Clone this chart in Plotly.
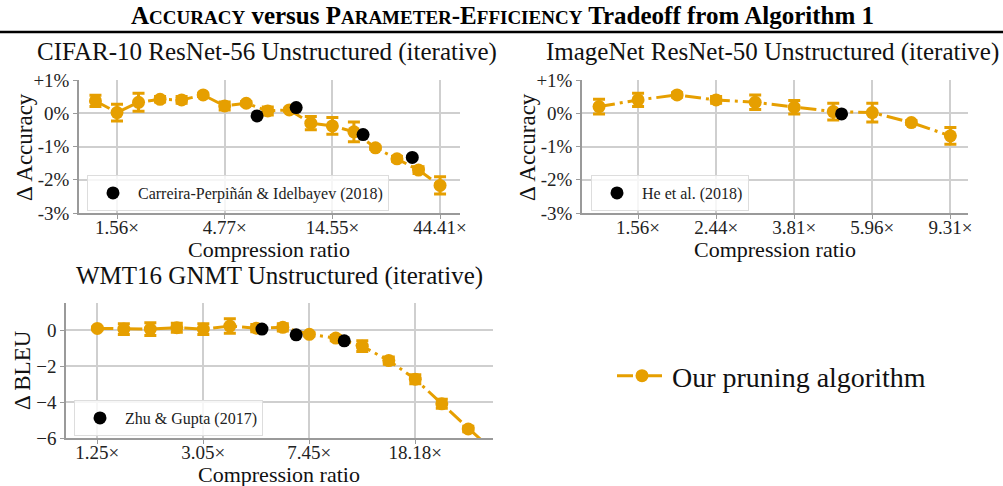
import math
import plotly.graph_objects as go

ORANGE = "#E69F00"
FONT = "Liberation Serif"

# ---------------- data ----------------
# CIFAR-10 ResNet-56
cifar_x = [1.25, 1.5625, 1.953, 2.441, 3.052, 3.815, 4.768, 5.96, 7.451, 9.313,
           11.64, 14.55, 18.19, 22.74, 28.42, 35.53, 44.41]
cifar_y = [0.37, 0.02, 0.33, 0.42, 0.40, 0.55, 0.22, 0.30, 0.07, 0.10,
           -0.30, -0.38, -0.56, -1.04, -1.37, -1.71, -2.17]
cifar_err = [0.17, 0.25, 0.27, 0.08, 0.10, 0.05, 0.12, 0.05, 0.12, 0.05,
             0.20, 0.25, 0.30, 0.05, 0.07, 0.10, 0.26]
cifar_ref_x = [6.67, 10.0, 20.0, 33.3]
cifar_ref_y = [-0.08, 0.17, -0.64, -1.33]

# ImageNet ResNet-50
imnet_x = [1.25, 1.5625, 1.953, 2.441, 3.052, 3.815, 4.768, 5.96, 7.451, 9.313]
imnet_y = [0.20, 0.40, 0.55, 0.40, 0.33, 0.18, 0.05, 0.02, -0.28, -0.68]
imnet_err = [0.22, 0.20, 0.07, 0.10, 0.22, 0.20, 0.25, 0.28, 0.06, 0.25]
imnet_ref_x = [5.0]
imnet_ref_y = [-0.02]

# WMT16 GNMT
wmt_x = [1.25, 1.5625, 1.953, 2.441, 3.052, 3.815, 4.768, 5.96, 7.451, 9.313,
         11.64, 14.55, 18.19, 22.74, 28.42, 35.53]
wmt_y = [0.09, 0.05, 0.05, 0.13, 0.05, 0.22, 0.10, 0.15, -0.24, -0.45,
         -0.90, -1.70, -2.73, -4.10, -5.50, -6.80]
wmt_err = [0.08, 0.30, 0.35, 0.25, 0.30, 0.40, 0.20, 0.20, 0.10, 0.15,
           0.30, 0.20, 0.25, 0.25, 0.15, 0.15]
wmt_ref_x = [5.0, 6.67, 10.0]
wmt_ref_y = [0.05, -0.27, -0.60]

cifar_ticks = [1.5625, 4.768, 14.55, 44.41]
cifar_ticktext = ["1.56×", "4.77×", "14.55×", "44.41×"]
imnet_ticks = [1.5625, 2.441, 3.815, 5.96, 9.313]
imnet_ticktext = ["1.56×", "2.44×", "3.81×", "5.96×", "9.31×"]
wmt_ticks = [1.25, 3.052, 7.451, 18.19]
wmt_ticktext = ["1.25×", "3.05×", "7.45×", "18.18×"]
acc_ticks = [-3, -2, -1, 0, 1]
acc_ticktext = ["-3%", "-2%", "-1%", "0%", "+1%"]
bleu_ticks = [-6, -4, -2, 0]
bleu_ticktext = ["−6", "−4", "−2", "0"]

titles = ["CIFAR-10 ResNet-56 Unstructured (iterative)",
          "ImageNet ResNet-50 Unstructured (iterative)",
          "WMT16 GNMT Unstructured (iterative)"]
ref_names = ["Carreira-Perpiñán & Idelbayev (2018)", "He et al. (2018)",
             "Zhu & Gupta (2017)"]

# ---------------- figure ----------------
W, H = 1003, 486
def px(x):
    return x / W
def py(y):
    return 1 - y / H

fig = go.Figure()

panels = [
    dict(xa="x", ya="y", x=cifar_x, y=cifar_y, e=cifar_err, rx=cifar_ref_x, ry=cifar_ref_y),
    dict(xa="x2", ya="y2", x=imnet_x, y=imnet_y, e=imnet_err, rx=imnet_ref_x, ry=imnet_ref_y),
    dict(xa="x3", ya="y3", x=wmt_x, y=wmt_y, e=wmt_err, rx=wmt_ref_x, ry=wmt_ref_y),
]
for i, p in enumerate(panels):
    fig.add_trace(go.Scatter(
        x=p["x"], y=p["y"], xaxis=p["xa"], yaxis=p["ya"],
        mode="lines+markers", name="Our pruning algorithm",
        line=dict(color=ORANGE, width=3, dash="16px,5px,3px,5px"),
        marker=dict(color=ORANGE, size=13),
        error_y=dict(type="data", array=p["e"], color=ORANGE, thickness=3, width=6),
        showlegend=(i == 0), legend="legend",
    ))
    fig.add_trace(go.Scatter(
        x=p["rx"], y=p["ry"], xaxis=p["xa"], yaxis=p["ya"],
        mode="markers", name=ref_names[i],
        marker=dict(color="black", size=13),
        showlegend=True, legend=["legend2", "legend3", "legend4"][i],
    ))

axis_common = dict(
    showline=True, linecolor="#9a9a9a", linewidth=1.5,
    showgrid=True, gridcolor="#cfcfcf", gridwidth=1.5,
    ticks="outside", ticklen=4, tickcolor="#9a9a9a", tickwidth=1.2,
    zeroline=False, mirror=False, automargin=False,
    tickfont=dict(family=FONT, size=19, color="#222"),
)
xax = dict(axis_common, type="log", ticklabelstandoff=-8)
fig.update_layout(
    xaxis=dict(xax, domain=[px(79), px(460)], anchor="y",
               range=[math.log10(1.054), math.log10(54.6)],
               tickvals=cifar_ticks, ticktext=cifar_ticktext),
    yaxis=dict(axis_common, domain=[py(213), py(80)], anchor="x", range=[-3, 1],
               tickvals=acc_ticks, ticktext=acc_ticktext),
    xaxis2=dict(xax, domain=[px(582), px(968)], anchor="y2",
                range=[math.log10(1.134), math.log10(10.3)],
                tickvals=imnet_ticks, ticktext=imnet_ticktext),
    yaxis2=dict(axis_common, domain=[py(213), py(80)], anchor="x2", range=[-3, 1],
                tickvals=acc_ticks, ticktext=acc_ticktext),
    xaxis3=dict(xax, domain=[px(66), px(493)], anchor="y3",
                range=[math.log10(0.96), math.log10(35.0)],
                tickvals=wmt_ticks, ticktext=wmt_ticktext),
    yaxis3=dict(axis_common, domain=[py(438), py(303)], anchor="x3", range=[-6, 1.5],
                tickvals=bleu_ticks, ticktext=bleu_ticktext),
)

leg_common = dict(bgcolor="rgba(255,255,255,0.8)", bordercolor="#dddddd", borderwidth=1,
                  xanchor="left", yanchor="top", font=dict(family=FONT, size=16, color="#222"),
                  itemwidth=40)
fig.update_layout(
    legend=dict(x=px(612), y=py(376), xanchor="left", yanchor="middle",
                bgcolor="rgba(0,0,0,0)", borderwidth=0,
                font=dict(family=FONT, size=28, color="#111"), itemwidth=50),
    legend2=dict(leg_common, x=px(87), y=py(175)),
    legend3=dict(leg_common, x=px(591), y=py(175)),
    legend4=dict(leg_common, x=px(74), y=py(400)),
)

ann = []
def add_text(t, xc, yc, size, angle=0, color="#111"):
    ann.append(dict(text=t, x=px(xc), y=py(yc), xref="paper", yref="paper",
                    xanchor="center", yanchor="middle", textangle=angle,
                    showarrow=False, font=dict(family=FONT, size=size, color=color)))

add_text(titles[0], 267, 52, 25)
add_text(titles[1], 772, 52, 25)
add_text(titles[2], 279, 276, 25)
for xc, yc in [(269, 249), (775, 249), (279, 474)]:
    add_text("Compression ratio", xc, yc, 22)
for xc, yc, t in [(24, 147, "Δ Accuracy"), (527, 147, "Δ Accuracy"), (22, 370, "Δ BLEU")]:
    add_text(t, xc, yc, 23, angle=-90)
sc = "<span style='font-size:19px'>"
add_text("<b>A" + sc + "CCURACY</span> versus P" + sc + "ARAMETER</span>-E" + sc +
         "FFICIENCY</span> Tradeoff from Algorithm 1</b>", 502, 15, 25, color="black")
fig.update_layout(annotations=ann)

fig.add_shape(type="line", xref="paper", yref="paper", x0=0, x1=1, y0=py(32), y1=py(32),
              line=dict(color="black", width=2.5))

fig.update_layout(
    width=W, height=H, margin=dict(l=0, r=0, t=0, b=0, autoexpand=False),
    paper_bgcolor="white", plot_bgcolor="white",
    font=dict(family=FONT),
)

fig.write_html("out.html", config={"displayModeBar": False},
               post_script="document.body.style.margin='0';")
